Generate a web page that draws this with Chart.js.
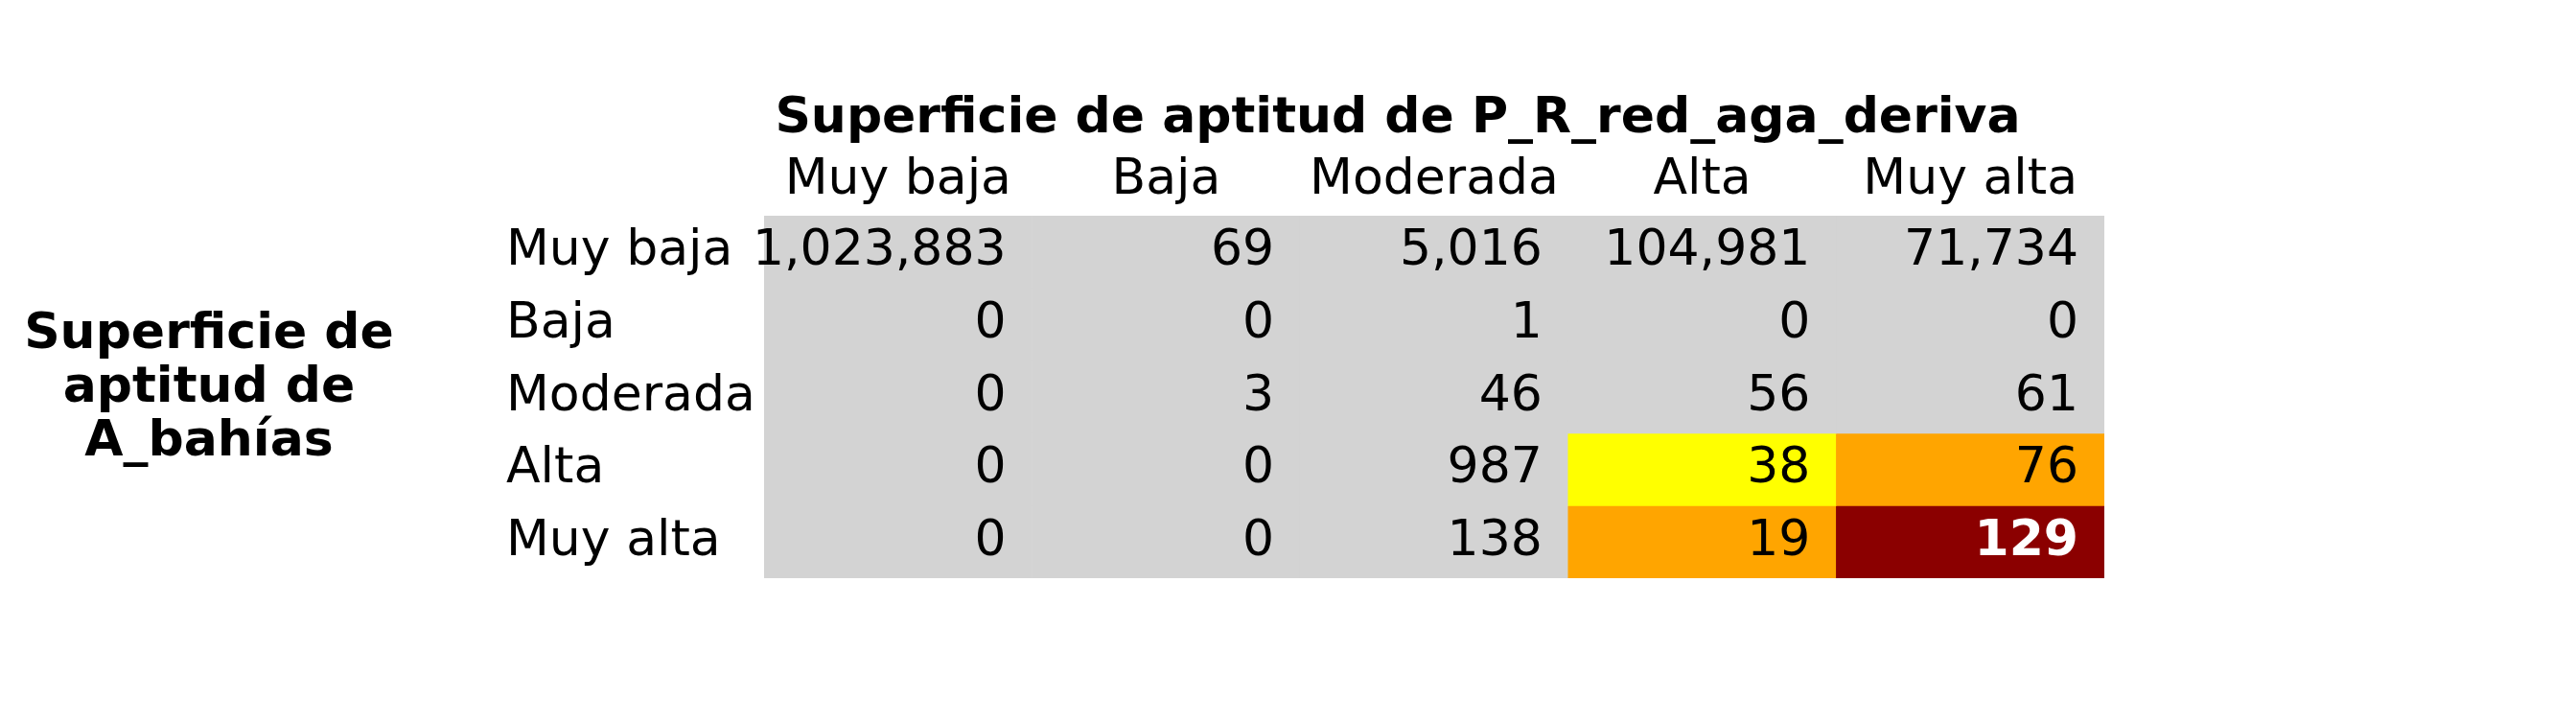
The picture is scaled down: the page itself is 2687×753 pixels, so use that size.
<!DOCTYPE html>
<html>
<head>
<meta charset="utf-8">
<script src="https://cdn.jsdelivr.net/npm/chart.js@4"></script>
<style>
  html, body { margin: 0; padding: 0; background: #fff; }
  #wrap { width: 2687px; height: 753px; }
</style>
</head>
<body>
<div id="wrap"><canvas id="chart" width="2687" height="753"></canvas></div>
<script>
const columns = ["Muy baja", "Baja", "Moderada", "Alta", "Muy alta"];
const rows = ["Muy baja", "Baja", "Moderada", "Alta", "Muy alta"];
const values = [
  [1023883, 69, 5016, 104981, 71734],
  [0, 0, 1, 0, 0],
  [0, 3, 46, 56, 61],
  [0, 0, 987, 38, 76],
  [0, 0, 138, 19, 129]
];
const cellColors = [
  ["#d3d3d3", "#d3d3d3", "#d3d3d3", "#d3d3d3", "#d3d3d3"],
  ["#d3d3d3", "#d3d3d3", "#d3d3d3", "#d3d3d3", "#d3d3d3"],
  ["#d3d3d3", "#d3d3d3", "#d3d3d3", "#d3d3d3", "#d3d3d3"],
  ["#d3d3d3", "#d3d3d3", "#d3d3d3", "#ffff00", "#ffa500"],
  ["#d3d3d3", "#d3d3d3", "#d3d3d3", "#ffa500", "#8b0000"]
];
const colTitle = "Superficie de aptitud de P_R_red_aga_deriva";
const rowTitle = ["Superficie de", "aptitud de", "A_bahías"];

const FONT = "'DejaVu Sans', sans-serif";

// one floating-bar dataset per row, all sharing the same x slot
const datasets = rows.map((r, i) => ({
  label: r,
  data: columns.map(() => [i, i + 1]),
  backgroundColor: cellColors[i],
  borderWidth: 0,
  barPercentage: 1,
  categoryPercentage: 1
}));

const tableText = {
  id: "tableText",
  afterDatasetsDraw(chart) {
    const ctx = chart.ctx;
    const x = chart.scales.x, y = chart.scales.y;
    const half = (x.getPixelForValue(1) - x.getPixelForValue(0)) / 2;
    ctx.save();
    ctx.textBaseline = "middle";
    values.forEach((row, i) => {
      const cy = y.getPixelForValue(i + 0.5);
      row.forEach((v, j) => {
        const dark = cellColors[i][j] === "#8b0000";
        ctx.fillStyle = dark ? "#fff" : "#000";
        ctx.font = (dark ? "bold " : "") + "52px " + FONT;
        ctx.textAlign = "right";
        ctx.fillText(v.toLocaleString("en-US"), x.getPixelForValue(j) + half - 27, cy);
      });
      ctx.fillStyle = "#000";
      ctx.font = "52px " + FONT;
      ctx.textAlign = "left";
      ctx.fillText(rows[i], 528, cy);
    });
    ctx.textAlign = "center";
    columns.forEach((c, j) => {
      ctx.fillText(c, x.getPixelForValue(j), 188);
    });
    ctx.font = "bold 52px " + FONT;
    ctx.fillText(colTitle, (x.left + x.right) / 2 - 38, 124);
    rowTitle.forEach((t, k) => ctx.fillText(t, 218, 349 + k * 56));
    ctx.restore();
  }
};

new Chart(document.getElementById("chart"), {
  type: "bar",
  data: { labels: columns, datasets },
  options: {
    responsive: false,
    animation: false,
    layout: { padding: { left: 797, right: 492, top: 225, bottom: 150 } },
    plugins: { legend: { display: false }, tooltip: { enabled: false } },
    scales: {
      x: { display: false, stacked: true, grid: { display: false } },
      y: { display: false, stacked: false, min: 0, max: 5, reverse: true, grid: { display: false } }
    }
  },
  plugins: [tableText]
});
</script>
</body>
</html>
